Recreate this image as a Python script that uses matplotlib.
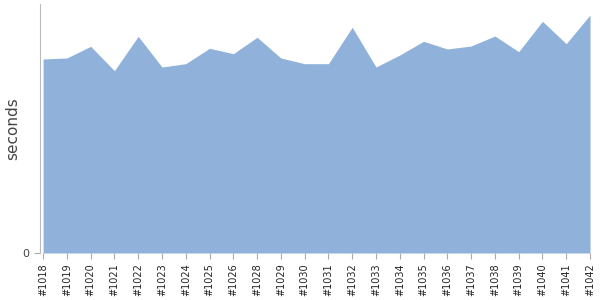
import matplotlib
matplotlib.use("Agg")
import matplotlib.pyplot as plt
import numpy as np

# Build ids and durations
builds = ["#1018", "#1019", "#1020", "#1021", "#1022", "#1023", "#1024", "#1025",
          "#1026", "#1028", "#1029", "#1030", "#1031", "#1032", "#1033", "#1034",
          "#1035", "#1036", "#1037", "#1038", "#1039", "#1040", "#1041", "#1042"]
seconds = [194, 195, 206.7, 182.3, 216.7, 186, 189.3, 204.7,
           199.3, 215.7, 195, 189.3, 189.3, 225.7, 186, 198,
           211.7, 204, 207, 217, 201.3, 231.7, 209.3, 238]

x = np.arange(len(builds))

fig = plt.figure(figsize=(6, 3), dpi=100)
ax = fig.add_axes([40 / 600, 47 / 300, 550 / 600, 249 / 300])

ax.fill_between(x, 0, seconds, color="#8fb1da", linewidth=0)

ax.set_xlim(-0.13, len(builds) - 1)
ax.set_ylim(0, 249)
ax.set_xticks(x)
ax.set_xticklabels(builds, rotation=90, fontsize=7)
ax.set_yticks([0])
ax.set_yticklabels(["0"], fontsize=8, color="#444444")
ax.set_ylabel("seconds", fontsize=11, color="#444444")
ax.yaxis.set_label_coords(-0.036, 0.5)

for side in ["top", "right", "bottom"]:
    ax.spines[side].set_visible(False)
ax.spines["left"].set_color("#bbbbbb")
ax.tick_params(axis="both", colors="#aaaaaa", length=4, width=0.8)
for lbl in ax.get_xticklabels():
    lbl.set_color("#222222")
ax.get_yticklabels()[0].set_color("#444444")

fig.savefig("out.png", dpi=100)
